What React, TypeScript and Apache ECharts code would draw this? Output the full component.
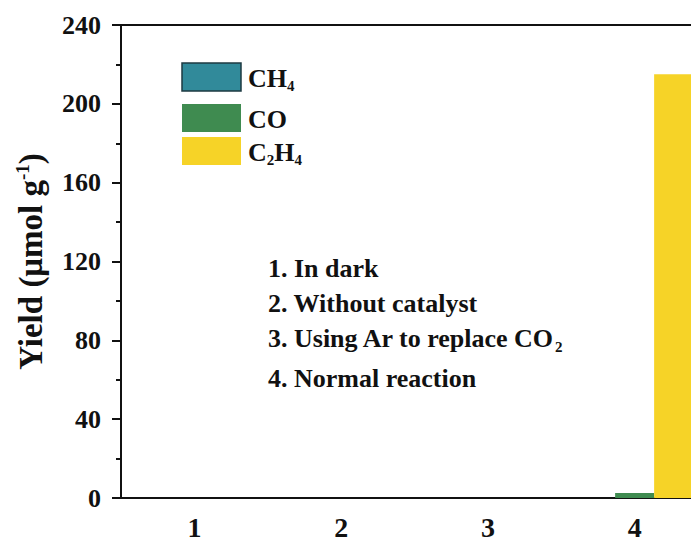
import React, { useEffect, useRef } from "react";
import * as echarts from "echarts";

// Reaction conditions (x categories)
const conditions = ["1", "2", "3", "4"];

// Product yields, µmol g⁻¹, per condition
const ch4Yield = [0, 0, 0, 0];
const coYield = [0, 0, 0, 2.5];
const c2h4Yield = [0, 0, 0, 215];

// Y-axis range and ticks
const yMin = 0;
const yMax = 240;
const yStep = 40;

const seriesNames = ["CH4", "CO", "C2H4"];
const seriesLabels = ["CH{s|4}", "CO", "C{s|2}H{s|4}"];
const seriesColors = ["#318a9a", "#3f8b50", "#f6d327"];
const seriesBorders = ["#1d3a42", "#3f8b50", "#f6d327"];

const notes = [
  "1. In dark",
  "2. Without catalyst",
  "3. Using Ar to replace CO{s|2}",
  "4. Normal reaction",
];

const FONT = "'Liberation Serif', 'Times New Roman', serif";

export default function App() {
  const ref = useRef<HTMLDivElement>(null);

  useEffect(() => {
    if (!ref.current) return;
    const chart = echarts.init(ref.current, undefined, { renderer: "svg" });

    const values = [ch4Yield, coYield, c2h4Yield];
    const series = seriesNames.map((name, i) => ({
      name,
      type: "bar",
      data: values[i],
      barWidth: 39,
      barGap: "0%",
      itemStyle: { color: seriesColors[i] },
    }));

    const subStyle = (size: number, drop: number) => ({
      fontFamily: FONT,
      fontWeight: "bold",
      fontSize: size,
      padding: [drop, 0, 0, 0],
    });

    const legendItems: any[] = [];
    const legendTops = [63, 104, 137];
    seriesNames.forEach((_, i) => {
      legendItems.push({
        type: "rect",
        shape: { x: 182, y: legendTops[i], width: 59, height: 28 },
        style: {
          fill: seriesColors[i],
          stroke: seriesBorders[i],
          lineWidth: i === 0 ? 1.5 : 0,
        },
      });
      legendItems.push({
        type: "text",
        x: 248,
        y: legendTops[i] + 15,
        style: {
          text: seriesLabels[i],
          fontFamily: FONT,
          fontWeight: "bold",
          fontSize: 26,
          fill: "#111",
          verticalAlign: "middle",
          rich: { s: subStyle(15, 16) },
        },
      });
    });

    const noteCenters = [268, 303, 338, 378];
    const noteItems = notes.map((t, i) => ({
      type: "text",
      x: 268,
      y: noteCenters[i],
      style: {
        text: t,
        fontFamily: FONT,
        fontWeight: "bold",
        fontSize: 26,
        fill: "#111",
        verticalAlign: "middle",
        rich: { s: subStyle(15, 17) },
      },
    }));

    chart.setOption({
      animation: false,
      backgroundColor: "#fff",
      grid: { left: 121, right: 0, top: 25, bottom: 47 },
      xAxis: [
        {
          type: "category",
          data: conditions,
          position: "bottom",
          axisLine: { lineStyle: { color: "#111", width: 2 } },
          axisTick: {
            alignWithLabel: true,
            length: 9,
            lineStyle: { color: "#111", width: 2 },
          },
          axisLabel: {
            color: "#111",
            fontFamily: FONT,
            fontWeight: "bold",
            fontSize: 28,
            margin: 15,
          },
        },
        {
          type: "category",
          data: conditions,
          position: "bottom",
          axisLine: { show: false },
          axisTick: {
            alignWithLabel: false,
            length: 5,
            lineStyle: { color: "#111", width: 2 },
          },
          axisLabel: { show: false },
        },
        {
          type: "category",
          data: conditions,
          position: "top",
          axisLine: { lineStyle: { color: "#111", width: 2 } },
          axisTick: { show: false },
          axisLabel: { show: false },
        },
      ],
      yAxis: {
        type: "value",
        min: yMin,
        max: yMax,
        interval: yStep,
        name: "{a|Yield (μmol g}{sup|-1}{a|)}",
        nameLocation: "middle",
        nameRotate: 90,
        nameGap: 72,
        nameTextStyle: {
          rich: {
            a: {
              fontFamily: FONT,
              fontWeight: "bold",
              fontSize: 33,
              color: "#111",
            },
            sup: {
              fontFamily: FONT,
              fontWeight: "bold",
              fontSize: 19,
              color: "#111",
              padding: [0, 0, 17, 0],
            },
          },
        },
        axisLine: { show: true, lineStyle: { color: "#111", width: 2 } },
        axisTick: {
          show: true,
          length: 9,
          lineStyle: { color: "#111", width: 2 },
        },
        minorTick: {
          show: true,
          splitNumber: 2,
          length: 5,
          lineStyle: { color: "#111", width: 2 },
        },
        splitLine: { show: false },
        axisLabel: {
          color: "#111",
          fontFamily: FONT,
          fontWeight: "bold",
          fontSize: 26,
          margin: 20,
        },
      },
      series,
      graphic: [...legendItems, ...noteItems],
    });

    return () => chart.dispose();
  }, []);

  // The plot runs past the right edge of the page, so the host clips it.
  return (
    <div style={{ width: 699, height: 545, margin: -8, overflow: "hidden" }}>
      <div ref={ref} style={{ width: 708, height: 545 }} />
    </div>
  );
}
